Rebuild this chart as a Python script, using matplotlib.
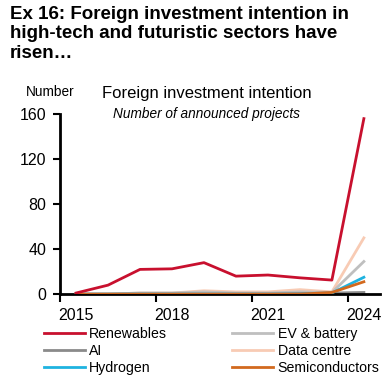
import matplotlib.pyplot as plt

plt.rcParams['font.family'] = ['Liberation Sans', 'DejaVu Sans']

years = [2015, 2016, 2017, 2018, 2019, 2020, 2021, 2022, 2023, 2024]
renewables = [1, 8, 22, 22.5, 28, 16, 17, 14.5, 12.5, 156]
ai = [0, 0, 0, 0, 0, 0, 0, 0.5, 1, 1.5]
hydrogen = [0, 0, 0, 0, 0, 0, 0, 0, 1, 15]
ev_battery = [0, 0, 1, 1, 2, 1, 1, 2, 1.5, 29]
data_centre = [0, 0, 1, 1, 3, 2, 2, 4, 2, 50]
semiconductors = [0, 0, 0, 0, 0, 0, 0, 0, 1.5, 11]

tick_labels = ['2015', '2018', '2021', '2024']

fig = plt.figure(figsize=(3.9, 3.83), dpi=100)
ax = fig.add_axes([0.154, 0.232, 0.82, 0.47])

x = list(range(len(years)))

# draw faint series first, red on top
ax.plot(x, data_centre, color='#f8cbb4', lw=2, label='Data centre', zorder=2)
ax.plot(x, ev_battery, color='#bfbfbf', lw=2, label='EV & battery', zorder=2)
ax.plot(x, ai, color='#8a8a8a', lw=2, label='AI', zorder=2)
ax.plot(x, hydrogen, color='#1fb3e0', lw=2, label='Hydrogen', zorder=3)
ax.plot(x, semiconductors, color='#d2691e', lw=2, label='Semiconductors', zorder=4)
ax.plot(x, renewables, color='#c8102e', lw=2, label='Renewables', zorder=5)

ax.set_xlim(-0.5, 9.5)
ax.set_ylim(0, 160)
ax.set_yticks([0, 40, 80, 120, 160])
ax.set_xticks([-0.5, 2.5, 5.5, 8.5])
ax.set_xticklabels([])
ax.set_xticks([0, 3, 6, 9], minor=True)
ax.set_xticklabels(tick_labels, minor=True)
ax.tick_params(axis='x', which='minor', length=0, labelsize=11.5, pad=10)
ax.tick_params(axis='x', which='major', length=6, width=1.5, direction='out')
ax.tick_params(axis='y', length=5, width=1.5, labelsize=11.5, pad=5)
for s in ['top', 'right']:
    ax.spines[s].set_visible(False)
for s in ['left', 'bottom']:
    ax.spines[s].set_linewidth(2)

fig.text(0.025, 0.985, 'Ex 16: Foreign investment intention in\nhigh-tech and futuristic sectors have\nrisen\u2026',
         fontsize=13.5, fontweight='bold', va='top', ha='left', linespacing=1.2)
fig.text(0.067, 0.76, 'Number', fontsize=9.8, va='center')
fig.text(0.53, 0.755, 'Foreign investment intention', fontsize=12, ha='center', va='center')
fig.text(0.53, 0.703, 'Number of announced projects', fontsize=9.8, style='italic', ha='center', va='center')

h = dict((l.get_label(), l) for l in ax.get_lines())
order = ['Renewables', 'AI', 'Hydrogen', 'EV & battery', 'Data centre', 'Semiconductors']
fig.legend([h[k] for k in order], order, ncol=2, loc='upper left', bbox_to_anchor=(0.112, 0.146),
           frameon=False, fontsize=10.2, handlelength=2.9, handletextpad=0.3,
           columnspacing=4.6, labelspacing=0.2, borderaxespad=0, borderpad=0)

fig.savefig('out.png', dpi=100)
